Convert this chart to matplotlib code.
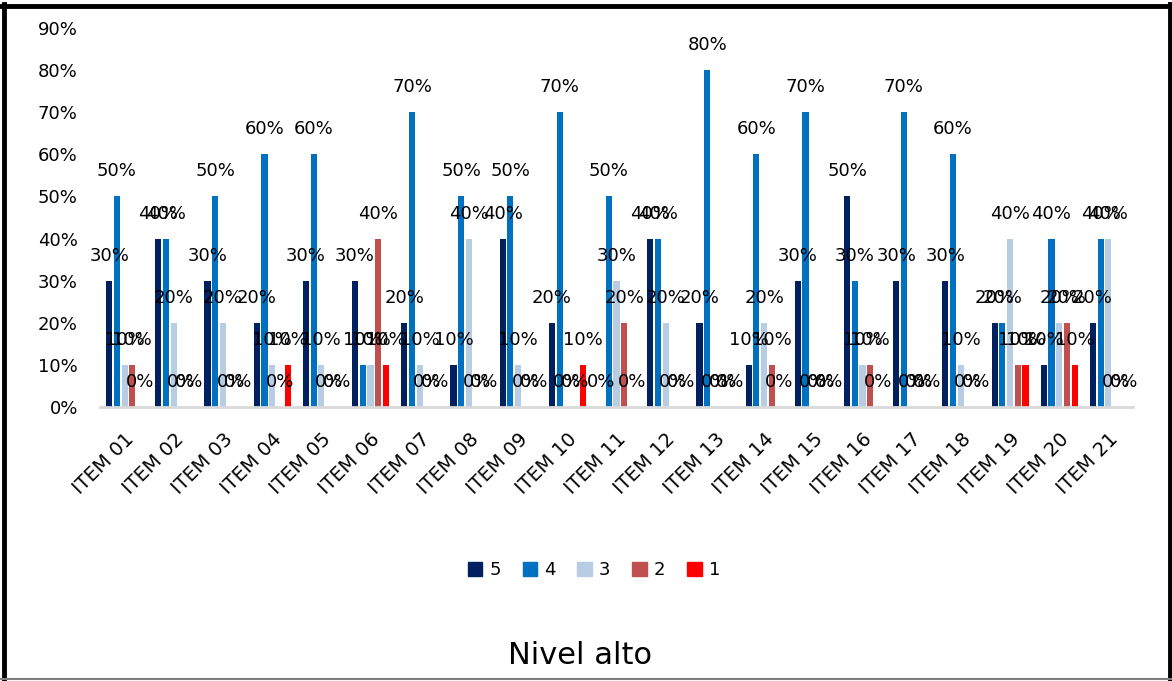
import matplotlib
matplotlib.use("Agg")
import matplotlib.pyplot as plt
import numpy as np
from matplotlib.patches import Rectangle
from matplotlib.lines import Line2D

items = ["ITEM %02d" % i for i in range(1, 22)]
series_names = ["5", "4", "3", "2", "1"]

s5 = [0.3, 0.4, 0.3, 0.2, 0.3, 0.3, 0.2, 0.1, 0.4, 0.2, 0.0, 0.4, 0.2, 0.1, 0.3, 0.5, 0.3, 0.3, 0.2, 0.1, 0.2]
s4 = [0.5, 0.4, 0.5, 0.6, 0.6, 0.1, 0.7, 0.5, 0.5, 0.7, 0.5, 0.4, 0.8, 0.6, 0.7, 0.3, 0.7, 0.6, 0.2, 0.4, 0.4]
s3 = [0.1, 0.2, 0.2, 0.1, 0.1, 0.1, 0.1, 0.4, 0.1, 0.0, 0.3, 0.2, 0.0, 0.2, 0.0, 0.1, 0.0, 0.1, 0.4, 0.2, 0.4]
s2 = [0.1, 0.0, 0.0, 0.0, 0.0, 0.4, 0.0, 0.0, 0.0, 0.0, 0.2, 0.0, 0.0, 0.1, 0.0, 0.1, 0.0, 0.0, 0.1, 0.2, 0.0]
s1 = [0.0, 0.0, 0.0, 0.1, 0.0, 0.1, 0.0, 0.0, 0.0, 0.1, 0.0, 0.0, 0.0, 0.0, 0.0, 0.0, 0.0, 0.0, 0.1, 0.1, 0.0]

colors = ["#002060", "#0070C0", "#B8CCE4", "#C0504D", "#FF0000"]

W, H = 1172, 681
fig = plt.figure(figsize=(W / 100, H / 100), dpi=100)
ax = fig.add_axes([100 / W, 1 - 407 / H, 1033 / W, 379 / H])

x = np.arange(len(items))
step = 0.157
bw = 0.125
for k, vals in enumerate([s5, s4, s3, s2, s1]):
    pos = x + (k - 2) * step
    ax.bar(pos, vals, width=bw, color=colors[k], label=series_names[k], zorder=2)
    for p, v in zip(pos, vals):
        ax.annotate("%d%%" % round(v * 100), (p, v), xytext=(0, 18), textcoords="offset points",
                    ha="center", va="center", fontsize=13, color="black", zorder=3)

ax.set_xlim(-0.5, len(items) - 0.5)
ax.set_ylim(0, 0.9)
ax.set_yticks(np.arange(0, 0.91, 0.1))
ax.set_yticklabels(["%d%%" % round(t * 100) for t in np.arange(0, 0.91, 0.1)], fontsize=13)
ax.set_xticks(x)
ax.set_xticklabels(items, fontsize=14, rotation=45, ha="right", rotation_mode="anchor")
ax.tick_params(axis="y", length=0, pad=16)
ax.tick_params(axis="x", length=0, pad=16)
for s in ["top", "right", "left"]:
    ax.spines[s].set_visible(False)
ax.spines["bottom"].set_color("#D9D9D9")
ax.spines["bottom"].set_linewidth(2)

handles = [Rectangle((0, 0), 1, 1, color=c) for c in colors]
fig.legend(handles, series_names, loc="center", bbox_to_anchor=(594 / W, 1 - 570 / H), ncol=5,
           frameon=False, fontsize=13, handlelength=0.8, handleheight=0.8, handletextpad=0.4,
           columnspacing=1.2)

fig.text(580 / W, 1 - 655 / H, "Nivel alto", ha="center", va="center", fontsize=22)

# chart border
fig.add_artist(Line2D([3.5 / W, 3.5 / W], [0, 1 - 4 / H], color="black", lw=3.5, transform=fig.transFigure))
fig.add_artist(Line2D([0, 1 - 2 / W], [1 - 5.5 / H, 1 - 5.5 / H], color="black", lw=3.5, transform=fig.transFigure))
fig.add_artist(Line2D([1 - 2 / W, 1 - 2 / W], [0, 1 - 4 / H], color="black", lw=3.5, transform=fig.transFigure))
fig.add_artist(Line2D([0, 1], [2 / H, 2 / H], color="#7F7F7F", lw=1.5, transform=fig.transFigure))

fig.savefig("out.png", dpi=100)
